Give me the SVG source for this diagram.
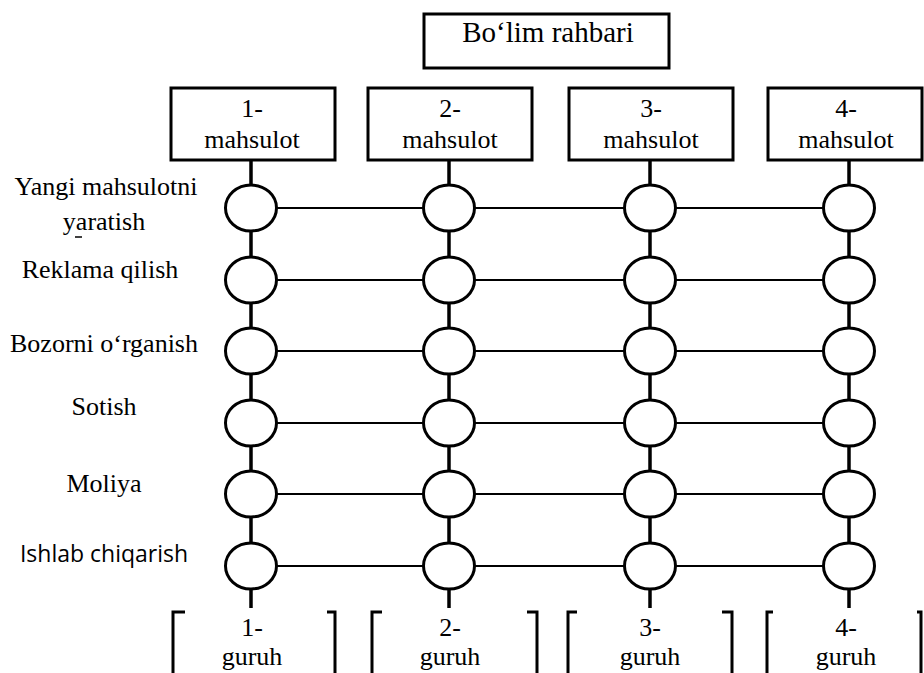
<svg xmlns="http://www.w3.org/2000/svg" width="924" height="673" viewBox="0 0 924 673">
<style>
.t{font-family:"Liberation Serif","Times New Roman",serif;font-size:26px;fill:#000;text-anchor:middle}
.s{font-family:"Open Sans","Liberation Sans",sans-serif;font-size:23px;fill:#000;text-anchor:middle}
.box{fill:#fff;stroke:#000;stroke-width:3}
.c{fill:#fff;stroke:#000;stroke-width:3}
.v{stroke:#000;stroke-width:3.5;fill:none}
.h{stroke:#000;stroke-width:2.2;fill:none}
.br{stroke:#000;stroke-width:3;fill:none}
</style>
<rect width="924" height="673" fill="#fff"/>
<g id="head">
<rect class="box" x="424" y="14" width="245" height="54"/>
<text class="t" x="548" y="42" style="font-size:29px">Bo‘lim rahbari</text>
</g>
<g id="products">
<g id="p1"><rect class="box" x="171" y="88" width="164" height="72"/><text class="t" x="252" y="117">1-</text><text class="t" x="252" y="148">mahsulot</text></g>
<g id="p2"><rect class="box" x="368" y="88" width="164" height="72"/><text class="t" x="450" y="117">2-</text><text class="t" x="450" y="148">mahsulot</text></g>
<g id="p3"><rect class="box" x="569" y="88" width="164" height="72"/><text class="t" x="651" y="117">3-</text><text class="t" x="651" y="148">mahsulot</text></g>
<g id="p4"><rect class="box" x="768" y="88" width="154" height="72"/><text class="t" x="846" y="117">4-</text><text class="t" x="846" y="148">mahsulot</text></g>
</g>
<g id="labels">
<text class="t" x="106" y="195">Yangi mahsulotni</text>
<text class="t" x="104" y="230">yaratish</text>
<line x1="75" y1="237" x2="82" y2="237" stroke="#000" stroke-width="1.5"/>
<text class="t" x="100" y="278">Reklama qilish</text>
<text class="t" x="104" y="352">Bozorni o‘rganish</text>
<text class="t" x="104" y="415">Sotish</text>
<text class="t" x="104" y="492">Moliya</text>
<text class="s" x="104" y="562">Ishlab chiqarish</text>
</g>
<g id="connectors">
<line class="v" x1="251" y1="160" x2="251" y2="608"/>
<line class="v" x1="449" y1="160" x2="449" y2="608"/>
<line class="v" x1="650" y1="160" x2="650" y2="608"/>
<line class="v" x1="849" y1="160" x2="849" y2="608"/>
<line class="h" x1="251" y1="208" x2="849" y2="208"/>
<line class="h" x1="251" y1="280" x2="849" y2="280"/>
<line class="h" x1="251" y1="351" x2="849" y2="351"/>
<line class="h" x1="251" y1="423" x2="849" y2="423"/>
<line class="h" x1="251" y1="494" x2="849" y2="494"/>
<line class="h" x1="251" y1="566" x2="849" y2="566"/>
</g>
<g id="circles">
<g id="r1"><ellipse class="c" cx="251" cy="208" rx="25.5" ry="23"/><ellipse class="c" cx="449" cy="208" rx="25.5" ry="23"/><ellipse class="c" cx="650" cy="208" rx="25.5" ry="23"/><ellipse class="c" cx="849" cy="208" rx="25.5" ry="23"/></g>
<g id="r2"><ellipse class="c" cx="251" cy="280" rx="25.5" ry="23"/><ellipse class="c" cx="449" cy="280" rx="25.5" ry="23"/><ellipse class="c" cx="650" cy="280" rx="25.5" ry="23"/><ellipse class="c" cx="849" cy="280" rx="25.5" ry="23"/></g>
<g id="r3"><ellipse class="c" cx="251" cy="351" rx="25.5" ry="23"/><ellipse class="c" cx="449" cy="351" rx="25.5" ry="23"/><ellipse class="c" cx="650" cy="351" rx="25.5" ry="23"/><ellipse class="c" cx="849" cy="351" rx="25.5" ry="23"/></g>
<g id="r4"><ellipse class="c" cx="251" cy="423" rx="25.5" ry="23"/><ellipse class="c" cx="449" cy="423" rx="25.5" ry="23"/><ellipse class="c" cx="650" cy="423" rx="25.5" ry="23"/><ellipse class="c" cx="849" cy="423" rx="25.5" ry="23"/></g>
<g id="r5"><ellipse class="c" cx="251" cy="494" rx="25.5" ry="23"/><ellipse class="c" cx="449" cy="494" rx="25.5" ry="23"/><ellipse class="c" cx="650" cy="494" rx="25.5" ry="23"/><ellipse class="c" cx="849" cy="494" rx="25.5" ry="23"/></g>
<g id="r6"><ellipse class="c" cx="251" cy="566" rx="25.5" ry="23"/><ellipse class="c" cx="449" cy="566" rx="25.5" ry="23"/><ellipse class="c" cx="650" cy="566" rx="25.5" ry="23"/><ellipse class="c" cx="849" cy="566" rx="25.5" ry="23"/></g>
</g>
<g id="groups">
<g id="g1"><polyline class="br" points="185,612 173,612 173,673"/><polyline class="br" points="327,612 335,612 335,673"/><text class="t" x="252" y="636">1-</text><text class="t" x="252" y="665">guruh</text></g>
<g id="g2"><polyline class="br" points="382,612 372,612 372,673"/><polyline class="br" points="527,612 537,612 537,673"/><text class="t" x="450" y="636">2-</text><text class="t" x="450" y="665">guruh</text></g>
<g id="g3"><polyline class="br" points="577,612 568,612 568,673"/><polyline class="br" points="722,612 732,612 732,673"/><text class="t" x="650" y="636">3-</text><text class="t" x="650" y="665">guruh</text></g>
<g id="g4"><polyline class="br" points="773,612 767,612 767,673"/><polyline class="br" points="917,612 921,612 921,673"/><text class="t" x="846" y="636">4-</text><text class="t" x="846" y="665">guruh</text></g>
</g>
</svg>
